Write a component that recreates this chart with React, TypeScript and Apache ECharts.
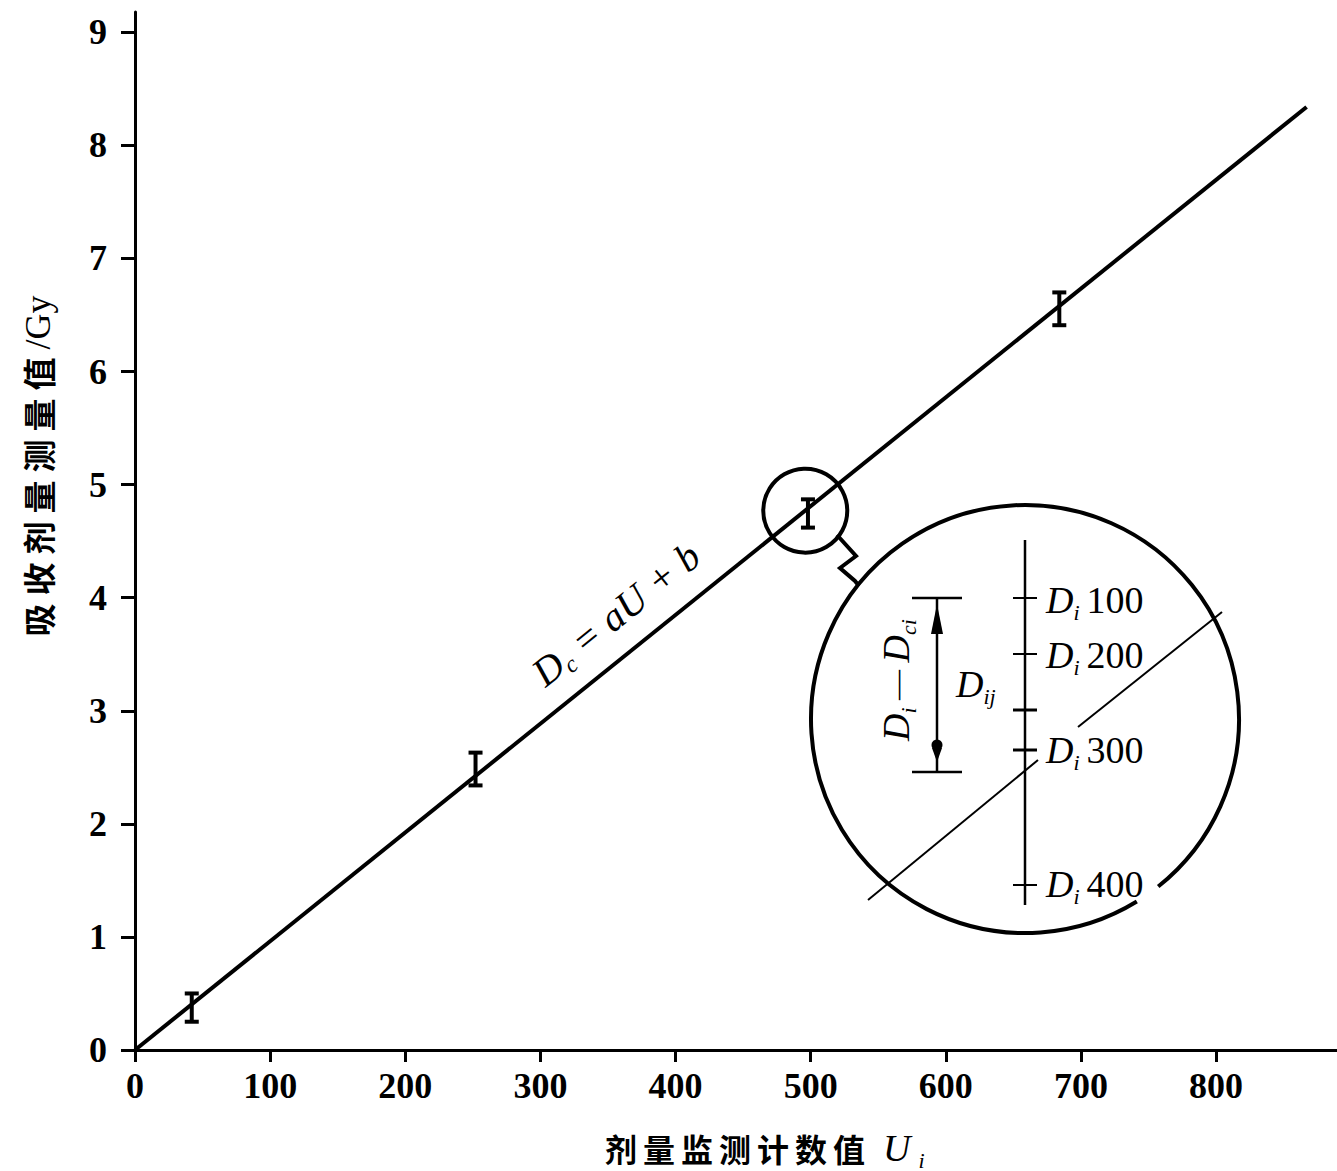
import React, { useEffect, useRef } from "react";
import * as echarts from "echarts";

// ---- data ----
const xTickValues = [0, 100, 200, 300, 400, 500, 600, 700, 800];
const yTickValues = [0, 1, 2, 3, 4, 5, 6, 7, 8, 9];
const fitLine = [
  [0, 0],
  [867, 8.34],
];
// [U, low, high]
const errorBars = [
  [42, 0.25, 0.5],
  [252, 2.34, 2.63],
  [498, 4.62, 4.87],
  [684, 6.41, 6.7],
];
const highlightPoint = [[496, 4.77]];
const insetLabels = ["100", "200", "300", "400"];
const xNameChars = ["剂", "量", "监", "测", "计", "数", "值"];
const yNameChars = ["吸", "收", "剂", "量", "测", "量", "值"];

const SERIF = "'Liberation Serif', 'DejaVu Serif', serif";
const CJK = "'Noto Sans CJK SC', sans-serif";

export default function App() {
  const ref = useRef<HTMLDivElement>(null);

  useEffect(() => {
    if (!ref.current) return;
    const chart = echarts.init(ref.current, undefined, { renderer: "svg" });

    const black = "#000";
    const italic = (size: number) => ({
      fontFamily: SERIF,
      fontStyle: "italic",
      fontSize: size,
      color: black,
      lineHeight: 46,
    });
    const sub = (size: number, pr = 0, pl = 0) => ({
      fontFamily: SERIF,
      fontStyle: "italic",
      fontSize: size,
      color: black,
      verticalAlign: "bottom",
      lineHeight: 24,
      padding: [0, pr, 0, pl],
    });
    const upright = (size: number) => ({
      fontFamily: SERIF,
      fontSize: size,
      color: black,
      lineHeight: 46,
    });

    const insetTickYs = [598, 654, 710, 750, 885];
    const insetLabelYs = [600, 655, 750, 884];

    const graphic: any[] = [
      // big magnified circle (with a gap at lower right)
      {
        type: "arc",
        shape: {
          cx: 1025,
          cy: 719,
          r: 214,
          startAngle: (58.5 * Math.PI) / 180,
          endAngle: ((360 + 51.5) * Math.PI) / 180,
          clockwise: true,
        },
        style: { stroke: black, lineWidth: 4, fill: "none" },
      },
      // zig-zag connector
      {
        type: "polyline",
        shape: {
          points: [
            [837, 535],
            [856, 556],
            [840, 568],
            [855, 581],
            [859, 586],
          ],
        },
        style: { stroke: black, lineWidth: 4, fill: "none" },
      },
      // slanted thin line inside inset
      {
        type: "line",
        shape: { x1: 868, y1: 900, x2: 1038, y2: 760 },
        style: { stroke: black, lineWidth: 2 },
      },
      {
        type: "line",
        shape: { x1: 1078, y1: 727, x2: 1222, y2: 612 },
        style: { stroke: black, lineWidth: 2 },
      },
      // vertical measurement line
      {
        type: "line",
        shape: { x1: 1025, y1: 540, x2: 1025, y2: 905 },
        style: { stroke: black, lineWidth: 2.5 },
      },
      ...insetTickYs.map((y, i) => ({
        type: "line",
        shape: { x1: 1013, y1: y, x2: 1037, y2: y },
        style: { stroke: black, lineWidth: i === 2 || i === 3 ? 3 : 2 },
      })),
      ...insetLabels.map((lab, i) => ({
        type: "text",
        x: 1046,
        y: insetLabelYs[i],
        style: {
          text: `{d|D}{s|i}{n|${lab}}`,
          align: "left",
          verticalAlign: "middle",
          rich: { d: italic(38), s: sub(22, 7), n: upright(38) },
        },
      })),
      // bracket
      {
        type: "line",
        shape: { x1: 912, y1: 598, x2: 962, y2: 598 },
        style: { stroke: black, lineWidth: 2.5 },
      },
      {
        type: "line",
        shape: { x1: 912, y1: 772, x2: 962, y2: 772 },
        style: { stroke: black, lineWidth: 2.5 },
      },
      {
        type: "line",
        shape: { x1: 937, y1: 598, x2: 937, y2: 772 },
        style: { stroke: black, lineWidth: 2.5 },
      },
      {
        type: "polygon",
        shape: {
          points: [
            [937, 604],
            [931, 634],
            [943, 634],
          ],
        },
        style: { fill: black },
      },
      {
        type: "circle",
        shape: { cx: 937, cy: 745, r: 5.5 },
        style: { fill: black },
      },
      {
        type: "polygon",
        shape: {
          points: [
            [932, 748],
            [942, 748],
            [937, 762],
          ],
        },
        style: { fill: black },
      },
      // D_ij
      {
        type: "text",
        x: 956,
        y: 684,
        style: {
          text: "{d|D}{s|ij}",
          align: "left",
          verticalAlign: "middle",
          rich: { d: italic(38), s: sub(22) },
        },
      },
      // D_i − D_ci (rotated)
      {
        type: "text",
        x: 896,
        y: 680,
        rotation: Math.PI / 2,
        style: {
          text: "{d|D}{s|i}{m| — }{d|D}{s|ci}",
          align: "center",
          verticalAlign: "middle",
          rich: { d: italic(38), s: sub(22), m: upright(30) },
        },
      },
      // D_c = aU + b along the line
      {
        type: "text",
        x: 616,
        y: 614,
        rotation: 0.677,
        style: {
          text: "{d|D}{s|c}{t| = aU + b}",
          align: "center",
          verticalAlign: "middle",
          rich: { d: italic(40), s: sub(24), t: italic(40) },
        },
      },
      // x axis name
      {
        type: "text",
        x: 605,
        y: 1148,
        style: {
          text:
            xNameChars.map((c) => `{cn|${c}}`).join("") + "{u|U}{s|i}",
          align: "left",
          verticalAlign: "middle",
          rich: {
            cn: {
              fontFamily: CJK,
              fontWeight: "bold",
              fontSize: 32,
              color: black,
              lineHeight: 46,
              padding: [0, 6, 0, 0],
            },
            u: { ...italic(38), padding: [0, 0, 0, 12] },
            s: sub(22, 0, 8),
          },
        },
      },
      // y axis name (rotated)
      {
        type: "text",
        x: 38,
        y: 466,
        rotation: Math.PI / 2,
        style: {
          text: yNameChars.map((c) => `{cn|${c}}`).join("") + "{g|/Gy}",
          align: "center",
          verticalAlign: "middle",
          rich: {
            cn: {
              fontFamily: CJK,
              fontWeight: "bold",
              fontSize: 33,
              color: black,
              lineHeight: 40,
              padding: [0, 8, 0, 0],
            },
            g: { fontFamily: SERIF, fontSize: 36, color: black, lineHeight: 40 },
          },
        },
      },
    ];

    chart.setOption({
      animation: false,
      backgroundColor: "#fff",
      grid: { left: 135, right: 0, top: 12, bottom: 121 },
      xAxis: {
        type: "value",
        min: 0,
        max: 889.5,
        interval: 100,
        splitLine: { show: false },
        axisLine: { show: true, lineStyle: { color: black, width: 3 } },
        axisTick: {
          show: true,
          inside: false,
          length: 12,
          lineStyle: { color: black, width: 3 },
          customValues: xTickValues,
        },
        axisLabel: {
          customValues: xTickValues,
          margin: 18,
          fontFamily: SERIF,
          fontWeight: "bold",
          fontSize: 36,
          color: black,
        },
      },
      yAxis: {
        type: "value",
        min: 0,
        max: 9.18,
        interval: 1,
        splitLine: { show: false },
        axisLine: { show: true, lineStyle: { color: black, width: 3 } },
        axisTick: {
          show: true,
          inside: false,
          length: 14,
          lineStyle: { color: black, width: 3 },
          customValues: yTickValues,
        },
        axisLabel: {
          customValues: yTickValues,
          margin: 28,
          fontFamily: SERIF,
          fontWeight: "bold",
          fontSize: 36,
          color: black,
        },
      },
      series: [
        {
          type: "line",
          data: fitLine,
          symbol: "none",
          lineStyle: { color: black, width: 4 },
          z: 2,
        },
        {
          type: "custom",
          data: errorBars,
          encode: { x: 0, y: [1, 2] },
          z: 3,
          renderItem: (_params: any, api: any) => {
            const x = api.value(0);
            const lo = api.value(1);
            const hi = api.value(2);
            const a = api.coord([x, hi]);
            const b = api.coord([x, lo]);
            const w = 7;
            const st = { stroke: black, lineWidth: 4 };
            return {
              type: "group",
              children: [
                { type: "line", shape: { x1: a[0], y1: a[1], x2: b[0], y2: b[1] }, style: st },
                { type: "line", shape: { x1: a[0] - w, y1: a[1], x2: a[0] + w, y2: a[1] }, style: st },
                { type: "line", shape: { x1: b[0] - w, y1: b[1], x2: b[0] + w, y2: b[1] }, style: st },
              ],
            };
          },
        },
        {
          type: "scatter",
          data: highlightPoint,
          symbol: "circle",
          symbolSize: 84,
          itemStyle: {
            color: "rgba(0,0,0,0)",
            borderColor: black,
            borderWidth: 4,
            opacity: 1,
          },
          z: 4,
        },
      ],
      graphic,
    });

    return () => chart.dispose();
  }, []);

  return (
    <div
      ref={ref}
      style={{ position: "absolute", left: 0, top: 0, width: 1337, height: 1171 }}
    />
  );
}
